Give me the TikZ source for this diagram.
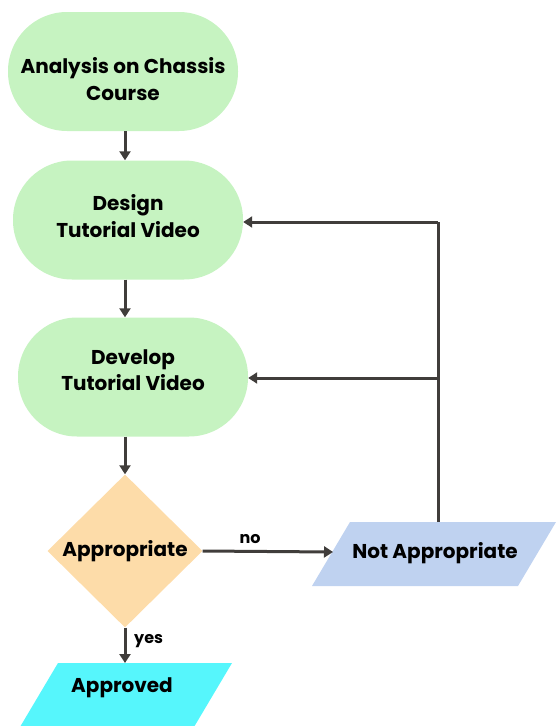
\documentclass[tikz,border=0pt]{standalone}
\usepackage{fontspec}
\setmainfont{Poppins}
\usetikzlibrary{shapes.geometric,arrows.meta}
\definecolor{termgreen}{HTML}{C6F3C1}
\definecolor{decpeach}{HTML}{FDDCA9}
\definecolor{nablue}{HTML}{BFD2F0}
\definecolor{okcyan}{HTML}{56F6FC}
\definecolor{linegray}{HTML}{403D3B}
\tikzset{
  term/.style={rectangle, fill=termgreen, minimum width=230pt, minimum height=119pt, rounded corners=59pt, inner sep=0pt},
  txt/.style={font=\bfseries\fontsize{20}{26.5}\selectfont, align=center, text=black, inner sep=0pt},
  lbl/.style={font=\bfseries\fontsize{16}{18}\selectfont, text=black, inner sep=0pt},
  arr/.style={draw=linegray, line width=3pt, -{Triangle[length=9pt,width=11pt]}},
  ln/.style={draw=linegray, line width=3pt}
}
\begin{document}
\begin{tikzpicture}[x=1pt,y=-1pt]
\clip (0,0) rectangle (557,726);
\useasboundingbox (0,0) rectangle (557,726);
% terminals
\node[term] (a) at (123,71.5) {};
\node[txt] (at) at (123,79) {Analysis on Chassis\\Course};
\node[term] (b) at (128,220) {};
\node[txt] (bt) at (128,216) {Design\\Tutorial Video};
\node[term] (c) at (133,377) {};
\node[txt] (ct) at (133,370) {Develop\\Tutorial Video};
% decision
\node[diamond, fill=decpeach, minimum width=155pt, minimum height=153pt, inner sep=0pt] (d) at (125,551) {};
\node[txt] (dt) at (d) {Appropriate};
% not appropriate
\fill[nablue] (350,522) -- (556,522) -- (518,586) -- (312,586) -- cycle;
\node[txt] (n) at (435,553) {Not Appropriate};
\coordinate (nleft) at (333,552);
\coordinate (ntop) at (438,522);
% approved
\fill[okcyan] (58,663) -- (232,663) -- (194,727) -- (20,727) -- cycle;
\node[txt] (ok) at (122,688) {Approved};
\coordinate (oktop) at (125,663);
% connectors
\draw[arr] (a.south -| d.north) -- (b.north -| d.north);
\draw[arr] (b.south -| d.north) -- (c.north -| d.north);
\draw[arr] (c.south -| d.north) -- (d.north);
\draw[arr] (d.south) -- (oktop);
\node[lbl, anchor=west] (yes) at (134,641) {yes};
\draw[arr] (d.east) -- (nleft);
\node[lbl] (no) at (250,539) {no};
\coordinate (fb1) at (438,222);
\coordinate (fb2) at (438,378);
\draw[ln] (ntop) -- (fb1);
\draw[arr] (fb1) -- (b.east |- fb1);
\draw[arr] (fb2) -- (c.east |- fb2);
\end{tikzpicture}
\end{document}
